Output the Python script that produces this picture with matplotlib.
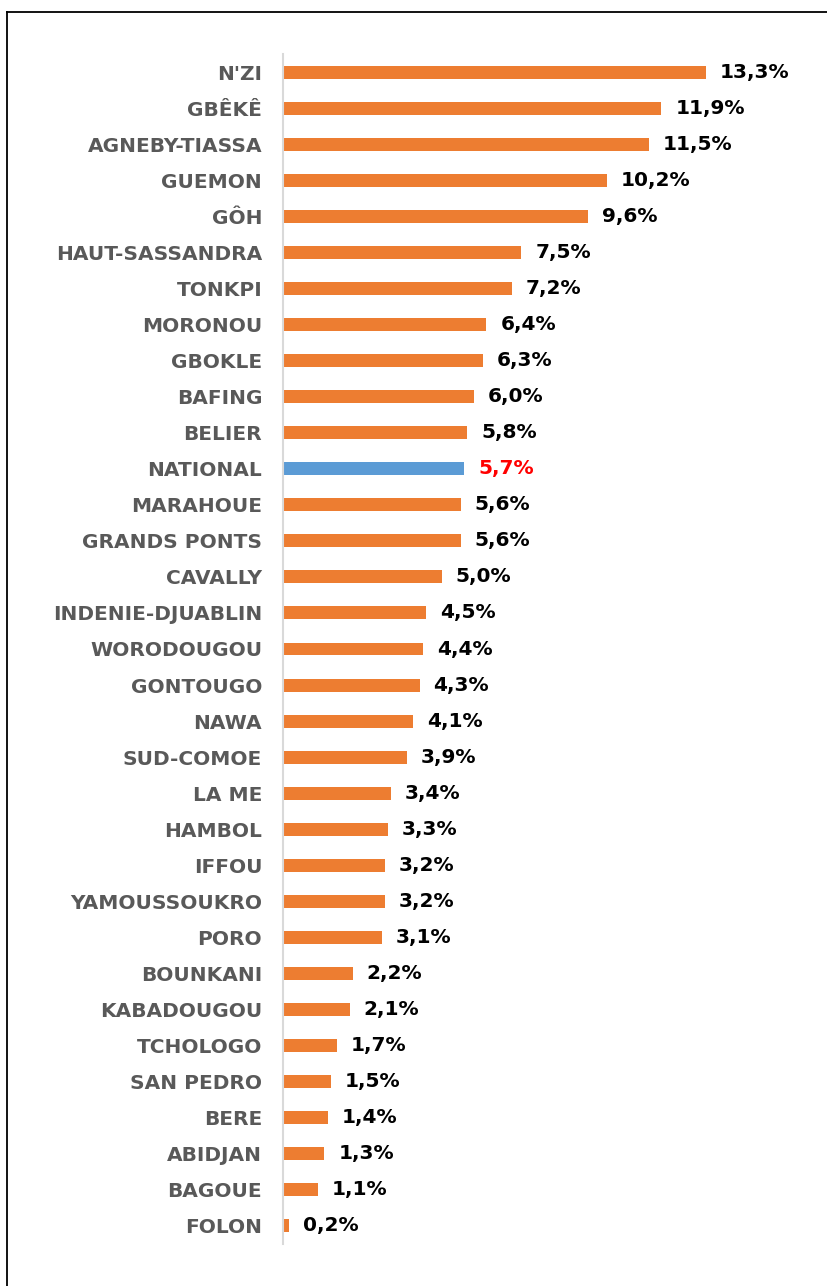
import matplotlib
matplotlib.use('Agg')
import matplotlib.pyplot as plt
from matplotlib.lines import Line2D

regions = ["N'ZI", "GBÊKÊ", "AGNEBY-TIASSA", "GUEMON", "GÔH", "HAUT-SASSANDRA",
           "TONKPI", "MORONOU", "GBOKLE", "BAFING", "BELIER", "NATIONAL",
           "MARAHOUE", "GRANDS PONTS", "CAVALLY", "INDENIE-DJUABLIN",
           "WORODOUGOU", "GONTOUGO", "NAWA", "SUD-COMOE", "LA ME", "HAMBOL",
           "IFFOU", "YAMOUSSOUKRO", "PORO", "BOUNKANI", "KABADOUGOU",
           "TCHOLOGO", "SAN PEDRO", "BERE", "ABIDJAN", "BAGOUE", "FOLON"]
values = [13.3, 11.9, 11.5, 10.2, 9.6, 7.5, 7.2, 6.4, 6.3, 6.0, 5.8, 5.7,
          5.6, 5.6, 5.0, 4.5, 4.4, 4.3, 4.1, 3.9, 3.4, 3.3, 3.2, 3.2, 3.1,
          2.2, 2.1, 1.7, 1.5, 1.4, 1.3, 1.1, 0.2]
highlight = "NATIONAL"

orange = '#ED7D31'
blue = '#5B9BD5'

W, H = 827, 1286
fig = plt.figure(figsize=(W / 100, H / 100), dpi=100)
ax = fig.add_axes([283 / W, 1 - 1244 / H, (744 - 283) / W, (1244 - 54) / H])

pos = list(range(len(regions)))
colors = [blue if r == highlight else orange for r in regions]
ax.barh(pos, values, height=0.36, color=colors)

for p, v, r in zip(pos, values, regions):
    ax.annotate(f"{v:.1f}%".replace('.', ','), (v, p), xytext=(10, 0),
                textcoords='offset points', va='center', ha='left',
                fontsize=14.5, fontweight='bold',
                color='red' if r == highlight else 'black')

ax.set_ylim(len(regions) - 0.5, -0.5)
ax.set_xlim(0, 14.5)
ax.set_yticks(pos)
ax.set_yticklabels(regions, fontsize=14.5, fontweight='bold', color='#595959')
ax.tick_params(axis='y', length=0, pad=15)
ax.set_xticks([])
for s in ['top', 'right', 'bottom']:
    ax.spines[s].set_visible(False)
ax.spines['left'].set_color('#D9D9D9')
ax.spines['left'].set_linewidth(1.5)

# outer frame (cut off at right and bottom)
x0 = 7 / W
y0 = 1 - 12 / H
fig.add_artist(Line2D([x0, 1], [y0, y0], transform=fig.transFigure, color='black', lw=1.3))
fig.add_artist(Line2D([x0, x0], [0, y0], transform=fig.transFigure, color='black', lw=1.3))

fig.savefig('out.png', dpi=100)
